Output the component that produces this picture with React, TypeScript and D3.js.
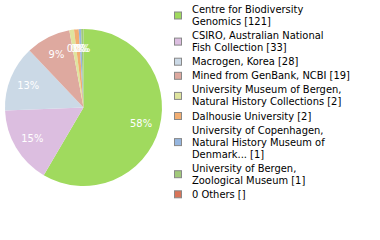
import React from "react";
import * as d3 from "d3";

const labels: string[][] = [
  ["Centre for Biodiversity", "Genomics [121]"],
  ["CSIRO, Australian National", "Fish Collection [33]"],
  ["Macrogen, Korea [28]"],
  ["Mined from GenBank, NCBI [19]"],
  ["University Museum of Bergen,", "Natural History Collections [2]"],
  ["Dalhousie University [2]"],
  ["University of Copenhagen,", "Natural History Museum of", "Denmark... [1]"],
  ["University of Bergen,", "Zoological Museum [1]"],
  ["0 Others []"],
];
const values: number[] = [121, 33, 28, 19, 2, 2, 1, 1, 0];
const colors: string[] = [
  "#a0da5e", "#dcbee0", "#cbd9e6", "#dea99f", "#dfe49e",
  "#f2ae72", "#96b6df", "#a1c97a", "#d97458",
];

export default function App() {
  const W = 380, H = 240;
  const cx = 83.5, cy = 107.5, r = 78.5;
  const total = d3.sum(values);
  const pie = d3.pie<number>().sort(null).value((d) => d)(values.slice(0, 8));
  const arc = d3.arc<d3.PieArcDatum<number>>().innerRadius(0).outerRadius(r);
  const lblArc = d3.arc<d3.PieArcDatum<number>>().innerRadius(r * 0.76).outerRadius(r * 0.76);

  const L = 12, G = 2.1;
  let y = 13;
  const items = labels.map((lines, i) => {
    const y0 = y;
    y += lines.length * L + G;
    return { lines, y0, i };
  });

  return (
    <svg width={W} height={H} style={{ position: "absolute", left: 0, top: 0, fontStretch: "condensed" }}
      fontFamily="'DejaVu Sans Condensed', 'DejaVu Sans'">
      <rect width={W} height={H} fill="#fff" />
      <g transform={`translate(${cx},${cy})`}>
        {pie.map((p, i) => (
          <path key={i} d={arc(p) || ""} fill={colors[i]} />
        ))}
        {pie.map((p, i) => {
          const [x, yy] = lblArc.centroid(p);
          return (
            <text key={i} x={x} y={yy} dy="0.35em" textAnchor="middle" fill="#fff" fontSize={11}>
              {Math.floor((values[i] / total) * 100)}%
            </text>
          );
        })}
      </g>
      <g>
        {items.map(({ lines, y0, i }) => {
          const mid = y0 + ((lines.length - 1) * L) / 2 - 3.5;
          return (
            <g key={i}>
              <rect x={174.5} y={mid - 3.5} width={7} height={7} fill={colors[i]} stroke="#888" strokeWidth={1} />
              {lines.map((t, j) => (
                <text key={j} x={192} y={y0 + j * L} fontSize={11} fill="#000">{t}</text>
              ))}
            </g>
          );
        })}
      </g>
    </svg>
  );
}
